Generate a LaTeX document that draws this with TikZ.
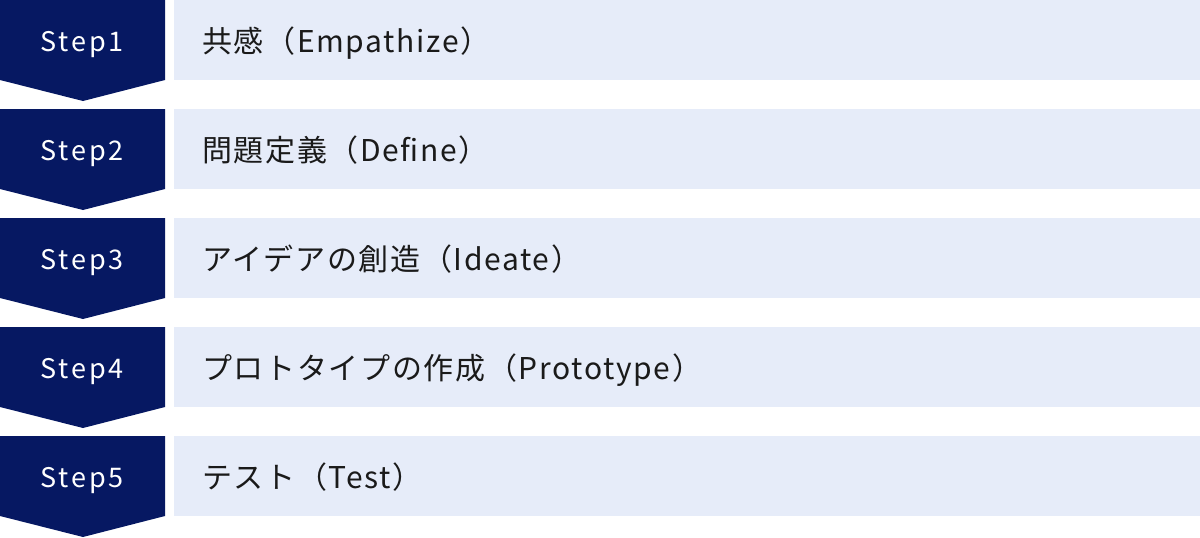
\documentclass[tikz,border=0pt]{standalone}
\usepackage{fontspec}
\setmainfont{Noto Sans CJK JP}
\newfontfamily\steplblfont[LetterSpace=11]{Noto Sans CJK JP}
\newfontfamily\barlblfont[LetterSpace=5.5]{Noto Sans CJK JP}
\usepackage{tikz}
\usetikzlibrary{positioning}
\definecolor{StepNavy}{RGB}{6,24,98}
\definecolor{BarBlue}{RGB}{230,236,249}
\definecolor{BarText}{RGB}{26,26,26}

\begin{document}
\begin{tikzpicture}[x=1pt,y=1pt]
	\tikzset{
		chevron/.style={fill=StepNavy},
		steplbl/.style={text=white, inner sep=0pt, anchor=base,
			font=\steplblfont\fontsize{27}{30}\selectfont},
		bar/.style={fill=BarBlue, anchor=north west, minimum width=1026pt,
			minimum height=80pt, inner sep=0pt},
		barlbl/.style={text=BarText, inner sep=0pt, anchor=base west,
			font=\barlblfont\fontsize{30}{34}\selectfont}
	}
	\useasboundingbox (0,0) rectangle (1200,-538);
	
	% STEP 1
	\fill[chevron] (0,0) -- (165,0) -- (165,-80) -- (83,-101) -- (0,-80) -- cycle;
	\node[steplbl] (s1) at (82,-51.7) {Step1};
	\node[bar] (b1) at (174,0) {};
	\node[barlbl] (t1) at (202,-52) {共感（Empathize）};
	
	% STEP 2
	\fill[chevron] (0,-109) -- (165,-109) -- (165,-189) -- (83,-210) -- (0,-189) -- cycle;
	\node[steplbl] (s2) at (82,-160.7) {Step2};
	\node[bar] (b2) at (174,-109) {};
	\node[barlbl] (t2) at (202,-161) {問題定義（Define）};
	
	% STEP 3
	\fill[chevron] (0,-218) -- (165,-218) -- (165,-298) -- (83,-319) -- (0,-298) -- cycle;
	\node[steplbl] (s3) at (82,-269.7) {Step3};
	\node[bar] (b3) at (174,-218) {};
	\node[barlbl] (t3) at (202,-270) {アイデアの創造（Ideate）};
	
	% STEP 4
	\fill[chevron] (0,-327) -- (165,-327) -- (165,-407) -- (83,-428) -- (0,-407) -- cycle;
	\node[steplbl] (s4) at (82,-378.7) {Step4};
	\node[bar] (b4) at (174,-327) {};
	\node[barlbl] (t4) at (202,-379) {プロトタイプの作成（Prototype）};
	
	% STEP 5
	\fill[chevron] (0,-436) -- (165,-436) -- (165,-516) -- (83,-537) -- (0,-516) -- cycle;
	\node[steplbl] (s5) at (82,-487.7) {Step5};
	\node[bar] (b5) at (174,-436) {};
	\node[barlbl] (t5) at (202,-488) {テスト（Test）};
\end{tikzpicture}
\end{document}
